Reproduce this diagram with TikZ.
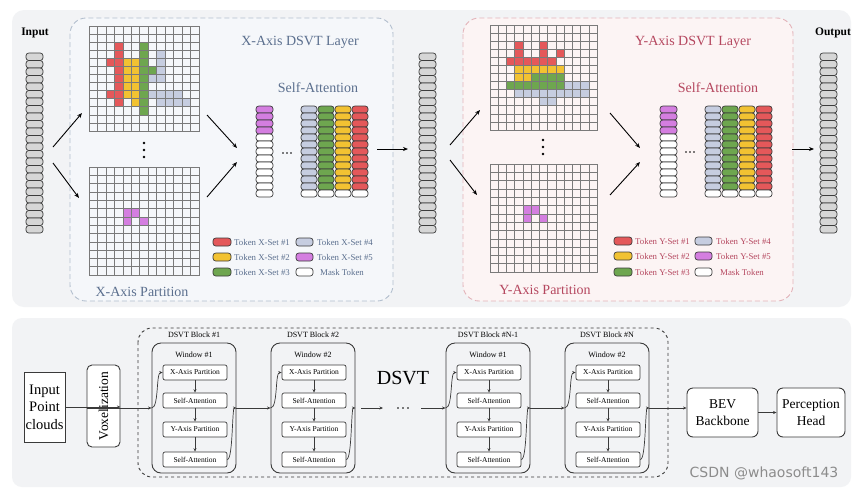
\documentclass[tikz,border=0pt]{standalone}
\usepackage{fontspec}
\setmainfont{Liberation Serif}
\newfontfamily\wmfont{DejaVu Sans}
\usetikzlibrary{arrows.meta}
\definecolor{panelc}{HTML}{F2F3F5}
\definecolor{xfill}{HTML}{F5F7FA}
\definecolor{xedge}{HTML}{B3BFCE}
\definecolor{xtext}{HTML}{5B6F8E}
\definecolor{yfill}{HTML}{FCF4F4}
\definecolor{yedge}{HTML}{E3B4BA}
\definecolor{ytext}{HTML}{B5475F}
\definecolor{tred}{HTML}{E4585A}
\definecolor{tyel}{HTML}{F2C232}
\definecolor{tgrn}{HTML}{6EA64F}
\definecolor{tblu}{HTML}{C6CDE0}
\definecolor{tpur}{HTML}{D47EE0}
\definecolor{tgry}{HTML}{D6D6D6}
\definecolor{tedge}{HTML}{3C3C3C}
\definecolor{gridc}{HTML}{7A7A7A}
\definecolor{boxc}{HTML}{3A3A3A}
\newcommand\tokcol[6]{% x, y0, w, h, n, color
  \foreach \k in {1,...,#5}{\draw[tok,fill=#6] (#1,{#2+(\k-1)*#4}) rectangle ++(#3,#4);}}
\newcommand\dgrid[4]{% x0 y0 w h
  \foreach \k in {0,...,13}{
    \draw[gline] ({#1+\k*#3/13},#2) -- ({#1+\k*#3/13},{#2+#4});
    \draw[gline] (#1,{#2+\k*#4/13}) -- ({#1+#3},{#2+\k*#4/13});}
  \draw[gridc,line width=0.9pt] (#1,#2) rectangle ({#1+#3},{#2+#4});}
\newcommand\dcells[6]{% x0 y0 w h color list
  \foreach \c/\r in {#6}{\fill[#5] ({#1+\c*#3/13},{#2+\r*#4/13}) rectangle ++({#3/13},{#4/13});}}
\newcommand\dblock[4]{% name, left x, block label, window label
  \node[obox] (#1) at ({#2+42},408) {};
  \node[smalltxt] at ({#2+42},335) {#3};
  \node[smalltxt] at ({#2+42},355) {#4};
  \node[ibox] (#1a) at ({#2+43},372.5) {X-Axis Partition};
  \node[ibox] (#1b) at ({#2+43},400.5) {Self-Attention};
  \node[ibox] (#1c) at ({#2+43},429.5) {Y-Axis Partition};
  \node[ibox] (#1d) at ({#2+43},459.5) {Self-Attention};
  \draw[barr] (#1a) -- (#1b);
  \draw[barr] (#1b) -- (#1c);
  \draw[barr] (#1c) -- (#1d);
  \draw[barr] (#1.west) .. controls ({#2+7},408) and ({#2+4},372.5) .. (#1a.west);
  \draw[barr] (#1d.east) .. controls ({#2+81},459.5) and ({#2+80},408) .. (#1.east);}
\begin{document}
\begin{tikzpicture}[x=1pt,y=-1pt,
  tok/.style={draw=tedge,line width=0.7pt,rounded corners=2.8pt},
  gline/.style={draw=gridc,line width=0.55pt},
  arr/.style={-{Stealth[length=5pt,width=4pt]},line width=0.9pt},
  barr/.style={-{Stealth[length=3.5pt,width=3pt]},line width=0.7pt,draw=boxc},
  ibox/.style={draw=boxc,line width=0.7pt,rounded corners=2pt,fill=white,minimum width=64pt,minimum height=15pt,inner sep=0pt,font=\fontsize{7.5}{8}\selectfont},
  obox/.style={draw=boxc,line width=0.9pt,rounded corners=9pt,minimum width=84pt,minimum height=130pt,inner sep=0pt},
  bigbox/.style={draw=boxc,line width=0.9pt,rounded corners=6pt,fill=white,align=center,font=\fontsize{13.5}{17}\selectfont,inner sep=0pt},
  smalltxt/.style={font=\fontsize{8}{9}\selectfont},
  legx/.style={anchor=west,font=\fontsize{8.8}{9}\selectfont,text=xtext,inner sep=0pt},
  legy/.style={anchor=west,font=\fontsize{8.8}{9}\selectfont,text=ytext,inner sep=0pt},
  ttl/.style={font=\fontsize{14}{15}\selectfont},
  hdr/.style={font=\bfseries\fontsize{11.5}{12}\selectfont}
]
\useasboundingbox (0,0) rectangle (859,491);
\fill[white] (0,0) rectangle (859,491);
% panels
\fill[panelc,rounded corners=12pt] (12,10) rectangle (851,307);
\fill[panelc,rounded corners=10pt] (12,318) rectangle (851,487);
% layer boxes
\draw[xedge,dash pattern=on 5pt off 3pt,line width=0.9pt,fill=xfill,rounded corners=16pt] (70,18) rectangle (393,301);
\draw[yedge,dash pattern=on 5pt off 3pt,line width=0.9pt,fill=yfill,rounded corners=16pt] (463,18) rectangle (793,301);

% columns of tokens
\tokcol{26}{53}{17}{7.5}{24}{tgry}
\tokcol{419}{53}{17}{7.5}{24}{tgry}
\tokcol{820}{53}{17}{7.5}{24}{tgry}
\node[hdr] (inlab) at (35,33) {Input};
\node[hdr] (outlab) at (833,33) {Output};

% ---------- X axis grids
\dcells{89}{26}{110}{105}{tred}{3/2,3/3,2/4,3/4,3/5,3/6,3/7,2/8,3/8,3/9}
\dcells{89}{26}{110}{105}{tyel}{4/4,5/4,4/5,5/5,4/6,5/6,4/7,5/7,4/8,5/8,5/9}
\dcells{89}{26}{110}{105}{tgrn}{6/2,6/3,6/4,6/5,7/5,6/6,6/7,6/8,6/9,6/10}
\dcells{89}{26}{110}{105}{tblu}{8/3,8/4,8/5,7/6,8/6,7/8,8/8,9/8,10/8,8/9,9/9,10/9,11/9}
\dgrid{89}{26}{110}{105}
\dcells{89}{167}{110}{108}{tpur}{4/5,5/5,4/6,6/6}
\dgrid{89}{167}{110}{108}
\foreach \yy in {143,150,157} \fill[black] (144,\yy) circle (1.3pt);

% ---------- Y axis grids
\dcells{490}{25}{107}{105}{tred}{3/2,3/3,6/2,6/3,8/3,2/4,3/4,4/4,5/4,6/4,7/4}
\dcells{490}{25}{107}{105}{tyel}{3/5,4/5,5/5,6/5,7/5,8/5,3/6,4/6}
\dcells{490}{25}{107}{105}{tgrn}{5/6,6/6,7/6,8/6,2/7,3/7,4/7,5/7,6/7,7/7,8/7}
\dcells{490}{25}{107}{105}{tblu}{9/7,10/7,11/7,3/8,4/8,5/8,6/8,7/8,8/8,9/8,10/8,11/8,6/9,7/9}
\dgrid{490}{25}{107}{105}
\dcells{490}{164}{107}{108}{tpur}{4/5,5/5,4/6,6/6}
\dgrid{490}{164}{107}{108}
\foreach \yy in {140,147,154} \fill[black] (543,\yy) circle (1.3pt);

% ---------- X self attention
\tokcol{256}{106}{17}{7}{4}{tpur}
\tokcol{256}{134}{17}{7}{9}{white}
\foreach \xx in {283,287,291} \fill[black] (\xx,153) circle (0.9pt);
\tokcol{301}{106}{16}{7}{12}{tblu}
\tokcol{318}{106}{16}{7}{12}{tgrn}
\tokcol{335}{106}{16}{7}{12}{tyel}
\tokcol{352}{106}{16}{7}{12}{tred}
\foreach \xx in {301,318,335,352} \draw[tok,fill=white] (\xx,190) rectangle ++(16,7);
\node[ttl,text=xtext] (xtitle) at (300,42) {X-Axis DSVT Layer};
\node[ttl,text=xtext] (xsa) at (318,88) {Self-Attention};
\node[ttl,text=xtext] (xpart) at (142,292) {X-Axis Partition};

% ---------- Y self attention
\tokcol{660}{106}{17}{7}{4}{tpur}
\tokcol{660}{134}{17}{7}{9}{white}
\foreach \xx in {686,690,694} \fill[black] (\xx,152) circle (0.9pt);
\tokcol{705}{106}{16}{7}{12}{tblu}
\tokcol{722}{106}{16}{7}{12}{tgrn}
\tokcol{739}{106}{16}{7}{12}{tyel}
\tokcol{756}{106}{16}{7}{12}{tred}
\foreach \xx in {705,722,739,756} \draw[tok,fill=white] (\xx,190) rectangle ++(16,7);
\node[ttl,text=ytext] (ytitle) at (693,42) {Y-Axis DSVT Layer};
\node[ttl,text=ytext] (ysa) at (718,88) {Self-Attention};
\node[ttl,text=ytext] (ypart) at (545,290) {Y-Axis Partition};

% ---------- legends
\draw[tok,fill=tred] (213,238) rectangle (231,246);
\draw[tok,fill=tyel] (213,253) rectangle (231,261);
\draw[tok,fill=tgrn] (213,268) rectangle (231,276);
\draw[tok,fill=tblu] (296,238) rectangle (313,246);
\draw[tok,fill=tpur] (296,253) rectangle (313,261);
\draw[tok,fill=white] (296,268) rectangle (313,276);
\node[legx] (lx1) at (234,242) {Token X-Set \#1};
\node[legx] (lx2) at (234,257) {Token X-Set \#2};
\node[legx] (lx3) at (234,272) {Token X-Set \#3};
\node[legx] (lx4) at (317,242) {Token X-Set \#4};
\node[legx] (lx5) at (317,257) {Token X-Set \#5};
\node[legx] (lx6) at (320,272) {Mask Token};

\draw[tok,fill=tred] (614,237) rectangle (632,245);
\draw[tok,fill=tyel] (614,252) rectangle (632,260);
\draw[tok,fill=tgrn] (614,268) rectangle (632,276);
\draw[tok,fill=tblu] (695,237) rectangle (712,245);
\draw[tok,fill=tpur] (695,252) rectangle (712,260);
\draw[tok,fill=white] (695,268) rectangle (712,276);
\node[legy] (ly1) at (635,241) {Token Y-Set \#1};
\node[legy] (ly2) at (635,256) {Token Y-Set \#2};
\node[legy] (ly3) at (635,272) {Token Y-Set \#3};
\node[legy] (ly4) at (716,241) {Token Y-Set \#4};
\node[legy] (ly5) at (716,256) {Token Y-Set \#5};
\node[legy] (ly6) at (720,272) {Mask Token};

% ---------- top arrows
\coordinate (a1s) at (53,147); \coordinate (a1e) at (82,113);
\coordinate (a2s) at (53,163); \coordinate (a2e) at (79,198);
\coordinate (a3s) at (207,115); \coordinate (a3e) at (237,148);
\coordinate (a4s) at (207,197); \coordinate (a4e) at (237,162);
\coordinate (a5s) at (377,149); \coordinate (a5e) at (408,149);
\coordinate (a6s) at (450,145); \coordinate (a6e) at (480,110);
\coordinate (a7s) at (450,160); \coordinate (a7e) at (477,195);
\coordinate (a8s) at (610,113); \coordinate (a8e) at (640,148);
\coordinate (a9s) at (610,195); \coordinate (a9e) at (640,162);
\coordinate (a10s) at (792,149); \coordinate (a10e) at (814,149);
\foreach \i in {1,...,10} \draw[arr] (a\i s) -- (a\i e);

% ---------- bottom pipeline
\node[draw=boxc,line width=0.9pt,fill=white,minimum width=41pt,minimum height=70pt,inner sep=0pt,align=center,font=\fontsize{14.5}{17.5}\selectfont] (ipc) at (44.5,407) {Input\\Point\\clouds};
\node[bigbox,rounded corners=5pt,rotate=90,minimum width=82pt,minimum height=33pt] (vox) at (103.5,406) {Voxelization};
\draw[boxc,dashed,line width=0.9pt,rounded corners=14pt] (138,328) rectangle (668,477);
\node[font=\fontsize{20}{22}\selectfont] (dsvt) at (403,378) {DSVT};

\dblock{b1}{152}{DSVT Block \#1}{Window \#1}
\dblock{b2}{271}{DSVT Block \#2}{Window \#2}
\dblock{b3}{446}{DSVT Block \#N-1}{Window \#1}
\dblock{b4}{565}{DSVT Block \#N}{Window \#2}

\node[bigbox,minimum width=71pt,minimum height=49pt] (bev) at (722.5,412.5) {BEV\\Backbone};
\node[bigbox,minimum width=68pt,minimum height=49pt] (ph) at (811,412.5) {Perception\\Head};

\coordinate (d1) at (361,408); \coordinate (d2) at (383,408);
\coordinate (d3) at (421,408);
\foreach \xx in {398,403,408} \fill[black] (\xx,408) circle (0.9pt);

\draw[barr] (ipc) -- (ipc -| vox.south);
\draw[barr] (vox.north |- b1.west) -- (b1.west);
\draw[barr] (b1.east) -- (b2.west);
\draw[barr] (d1) -- (d2);
\draw[barr] (d3) -- (b3.west);
\draw[barr] (b3.east) -- (b4.west);
\draw[barr] (b4.east) -- (bev.west |- b4.east);
\draw[barr] (bev) -- (ph);

\node[font=\wmfont\fontsize{14}{15}\selectfont,text=black!45] (wm) at (764,473) {CSDN @whaosoft143};
\end{tikzpicture}
\end{document}
